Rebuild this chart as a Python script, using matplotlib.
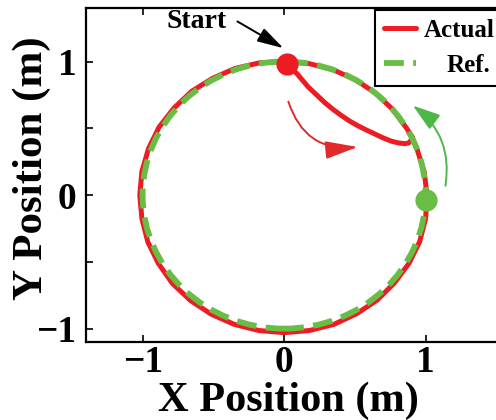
import matplotlib
matplotlib.use('Agg')
import matplotlib.pyplot as plt
from matplotlib.patches import Circle

# reference path: circle of radius 1 about the origin
ref_center = (0.0, 0.0)
ref_radius = 1.0
ref_start = (1.0, -0.04)

# actual trajectory
actual_x = [0.02, 0.05, 0.09, 0.13, 0.17, 0.23, 0.29, 0.35, 0.41, 0.465, 0.52, 0.58, 0.64,
            0.70, 0.76, 0.81, 0.855, 0.88, 0.897, 0.905,
            0.866, 0.766, 0.643, 0.500, 0.342, 0.174, 0.0,
            -0.175, -0.345, -0.505, -0.652, -0.778, -0.883, -0.958, -1.005, -1.02,
            -1.005, -0.963, -0.888, -0.789, -0.662, -0.515, -0.352, -0.179, 0.0,
            0.179, 0.352, 0.513, 0.659, 0.781, 0.883, 0.958, 1.000, 1.01,
            0.990, 0.940, 0.905]
actual_y = [0.98, 0.95, 0.91, 0.86, 0.81, 0.75, 0.69, 0.638, 0.592, 0.553, 0.52, 0.488, 0.458,
            0.428, 0.403, 0.39, 0.385, 0.39, 0.41, 0.435,
            0.500, 0.643, 0.766, 0.866, 0.940, 0.985, 1.0,
            0.990, 0.949, 0.875, 0.778, 0.652, 0.510, 0.349, 0.177, 0.0,
            -0.177, -0.351, -0.513, -0.662, -0.789, -0.892, -0.968, -1.014, -1.03,
            -1.014, -0.968, -0.888, -0.785, -0.656, -0.510, -0.349, -0.176, 0.0,
            0.175, 0.342, 0.435]

red = '#ed1c24'
green = '#68bd45'
dash = (0, (3.4, 1.6))

plt.rcParams['font.family'] = ['Liberation Serif', 'DejaVu Serif']
plt.rcParams['font.weight'] = 'bold'

fig = plt.figure(figsize=(4.96, 4.2), dpi=100)
ax = fig.add_axes([0.1734, 0.1857, 0.8416, 0.795])

ax.plot(actual_x, actual_y, color=red, lw=3.6, solid_capstyle='round',
        solid_joinstyle='round', label='Actual', zorder=3)
ax.plot([], [], color=green, lw=4.2, linestyle=dash, label='Ref.')
ax.add_patch(Circle(ref_center, ref_radius, fill=False, edgecolor=green, lw=4.2,
                    linestyle=dash, zorder=4))

ax.plot(actual_x[0], actual_y[0], 'o', color=red, ms=16, mec='none', zorder=5)
ax.plot(ref_start[0], ref_start[1], 'o', color=green, ms=16, mec='none', zorder=5)

# direction arrows
ax.annotate('', xy=(0.52, 0.36), xytext=(0.03, 0.70),
            arrowprops=dict(arrowstyle='-|>,head_length=2.0,head_width=0.55', color='#e32a2a',
                            lw=1.4, connectionstyle='arc3,rad=0.4', shrinkA=0, shrinkB=0))
ax.annotate('', xy=(0.91, 0.67), xytext=(1.14, 0.07),
            arrowprops=dict(arrowstyle='-|>,head_length=1.7,head_width=0.55', color='#4db848',
                            lw=1.4, connectionstyle='arc3,rad=0.3', shrinkA=0, shrinkB=0))
ax.text(-0.62, 1.30, 'Start', fontsize=20, fontweight='bold', ha='center', va='center')
ax.annotate('', xy=(-0.005, 1.10), xytext=(-0.33, 1.30),
            arrowprops=dict(arrowstyle='-|>,head_length=1.6,head_width=0.45', color='black',
                            lw=1.4, shrinkA=0, shrinkB=0))

ax.set_xlim(-1.4, 1.55)
ax.set_ylim(-1.1, 1.4)
ax.set_xticks([-1, 0, 1])
ax.set_xticklabels(['\u22121', '0', '1'])
ax.set_yticks([-1, -0.5, 0, 0.5, 1])
ax.set_yticklabels(['\u22121', '', '0', '', '1'])
ax.tick_params(direction='in', length=5, width=1.2, labelsize=27, top=True, right=True)
ax.tick_params(axis='y', pad=7)
ax.tick_params(axis='x', pad=2)
for s in ax.spines.values():
    s.set_linewidth(1.6)

ax.set_xlabel('X Position (m)', fontsize=30.5, fontweight='bold')
ax.set_ylabel('Y Position (m)', fontsize=31, fontweight='bold')
ax.xaxis.label.set_verticalalignment('baseline')
ax.xaxis.set_label_coords(0.484, -0.208)
ax.yaxis.set_label_coords(-0.085, 0.52)

leg = ax.legend(loc='upper left', bbox_to_anchor=(0.692, 0.995), borderaxespad=0,
                fontsize=18, handlelength=1.3, handletextpad=0.3, labelspacing=0.5,
                fancybox=False, framealpha=1, edgecolor='black', borderpad=0.35)
leg.get_frame().set_linewidth(1.5)
# right-align "Ref." under "Actual"
leg.get_texts()[1].set_x(23)

plt.savefig('out.png', dpi=100)
